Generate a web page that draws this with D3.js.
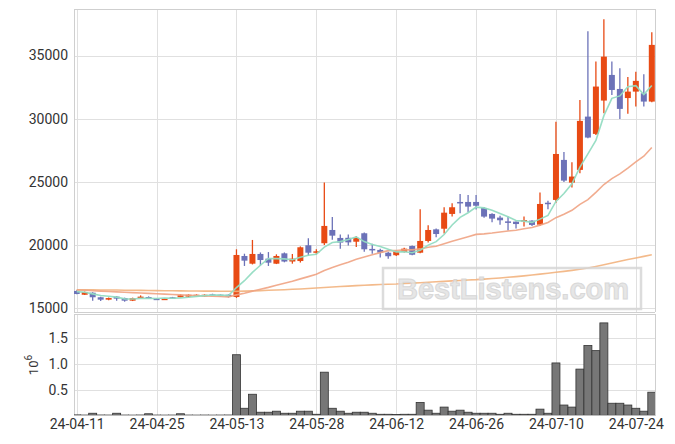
<!DOCTYPE html>
<html><head><meta charset="utf-8">
<script src="https://cdn.jsdelivr.net/npm/d3@7/dist/d3.min.js"></script>
<style>body{margin:0;background:#fff;} svg{display:block;font-family:Roboto,"Noto Sans",sans-serif;}</style>
</head><body><svg id="c" width="675" height="444"></svg>
<script>
const dates = ["24-04-11","24-04-12","24-04-15","24-04-16","24-04-17","24-04-18","24-04-19","24-04-22","24-04-23","24-04-24","24-04-25","24-04-26","24-04-29","24-04-30",
"24-05-02","24-05-03","24-05-07","24-05-08","24-05-09","24-05-10","24-05-13","24-05-14","24-05-16","24-05-17","24-05-20","24-05-21","24-05-22","24-05-23","24-05-24","24-05-27","24-05-28","24-05-29","24-05-30","24-05-31",
"24-06-03","24-06-04","24-06-05","24-06-07","24-06-10","24-06-11","24-06-12","24-06-13","24-06-14","24-06-17","24-06-18","24-06-19","24-06-20","24-06-21","24-06-24","24-06-25","24-06-26","24-06-27","24-06-28",
"24-07-01","24-07-02","24-07-03","24-07-04","24-07-05","24-07-08","24-07-09","24-07-10","24-07-11","24-07-12","24-07-15","24-07-16","24-07-17","24-07-18","24-07-19","24-07-22","24-07-23","24-07-24","24-07-25","24-07-26"];

const openP = [16350,16050,16210,15850,15660,15900,15790,15580,15820,15870,
15740,15670,15850,15850,15900,15900,15920,16080,16050,16050,
15870,19120,18510,19280,18910,18510,19330,18680,18720,19970,
19380,20130,21180,20550,20560,20250,20920,19680,19600,19380,
19180,19440,19910,19380,20310,21230,21280,22450,23400,23400,
23400,22920,22450,22160,21860,21840,21870,21920,21600,23340,
23560,26730,24930,25940,30160,28790,31430,33460,32350,31630,
32140,32010,31350];
const highP = [16400,16300,16250,15900,15830,15950,15820,15820,16000,15920,
15780,15780,15880,16100,16080,16080,16080,16130,16080,16080,
19650,19300,20390,19400,19430,19250,19400,19280,19880,20520,
19650,24950,22200,20820,20820,20700,20980,20080,19700,19450,
19550,19780,19950,22820,21550,21300,22980,23300,24030,23950,
23950,23000,22500,22300,22240,21850,22240,21950,24140,23500,
29760,27350,26550,31480,36920,34520,37880,34520,33990,33300,
33720,33510,36850];
const lowP = [16080,16020,15580,15550,15620,15580,15500,15550,15800,15790,
15650,15640,15720,15830,15870,15880,15900,15980,15920,15830,
15800,18330,18450,18350,18330,18480,18620,18510,18600,19120,
19220,19990,20400,19690,19950,19840,19450,19300,19000,18900,
19120,19400,19180,19330,20180,20600,20900,22240,22500,22580,
22800,22150,21800,21600,21130,21300,21450,21500,21500,22820,
23340,24990,24540,25680,28450,28700,30430,31870,29980,30380,
30960,30960,31300];
const closeP = [16110,16270,15850,15660,15790,15740,15580,15790,15900,15820,
15690,15740,15740,16010,16050,16050,16050,16000,15950,15900,
19200,18750,19280,18800,18590,19120,18680,18910,19810,19380,
19490,21500,20730,20180,20200,20550,19650,19600,19380,19100,
19490,19700,19220,20310,21180,20860,22550,22980,23300,23030,
23100,22240,22080,21950,21760,21650,21970,21580,23240,23240,
27200,25090,25410,29820,28500,32540,34910,32270,30770,32140,
32990,31350,35840];
const volume = [8000,5000,40000,6000,5000,40000,5000,4000,6000,30000,
5000,4000,5000,30000,5000,4000,5000,4000,5000,6000,
1180000,137000,410000,60000,60000,80000,40000,40000,80000,80000,
20000,840000,137000,80000,40000,60000,60000,40000,20000,20000,
15000,20000,20000,250000,100000,40000,160000,80000,100000,60000,
40000,40000,40000,20000,40000,20000,20000,20000,120000,40000,
1020000,200000,160000,900000,1360000,1260000,1800000,235000,235000,200000,
137000,80000,450000];
const ma5 = [16300,16250,16120,15990,15936,15862,15724,15712,15760,15766,
15756,15788,15778,15800,15846,15918,15980,16032,16020,15990,
16620,17160,17816,18386,18924,18908,18894,18820,19022,19180,
19254,19818,20182,20256,20420,20632,20262,20036,19876,19656,
19444,19454,19378,19564,19980,20254,20824,21576,22174,22544,
22992,22930,22750,22480,22226,21936,21882,21782,22040,22336,
23446,24070,24836,26152,27204,28272,30236,31608,31798,32526,
32616,31904,32618];
const ma20 = [16420,16400,16370,16340,16310,16280,16250,16220,16190,16160,
16130,16100,16070,16040,16010,15980,15950,15930,15905,15885,
16039,16163,16335,16492,16632,16801,16956,17112,17307,17485,
17675,17963,18213,18421,18629,18854,19034,19214,19385,19545,
19560,19607,19604,19680,19809,19896,20090,20293,20468,20650,
20831,20868,20935,21024,21102,21157,21273,21372,21565,21772,
22157,22427,22736,23212,23578,24162,24780,25244,25618,26073,
26568,27023,27711];
const maLong = [16450,16445,16440,16430,16425,16420,16410,16400,16395,16390,
16380,16370,16365,16360,16350,16345,16340,16335,16330,16325,
16320,16335,16355,16375,16400,16425,16450,16480,16510,16545,
16580,16620,16660,16700,16730,16770,16800,16830,16860,16880,
16900,16935,16970,17005,17040,17075,17110,17145,17180,17215,
17245,17290,17335,17380,17430,17485,17545,17610,17680,17755,
17830,17900,17980,18070,18170,18290,18420,18560,18710,18840,
18960,19090,19220];

const xTickIdx = [0,10,20,30,40,50,60,70];
const priceTicks = [15000,20000,25000,30000,35000];
const volTicks = [500000,1000000,1500000];

const L=74, R=655, pTop=9, pBot=312, vTop=314, vBot=415.5;
const svg = d3.select("#c");
const x = d3.scaleLinear().domain([-0.34,72.4]).range([L,R]);
const y = d3.scaleLinear().domain([15000,35000]).range([308,55.5]);
const yv = d3.scaleLinear().domain([0,1500000]).range([415.3,338.3]);
const UP="#e84a14", DOWN="#6c72b8";

const defs = svg.append("defs");
defs.append("clipPath").attr("id","cp").append("rect").attr("x",L).attr("y",pTop).attr("width",R-L).attr("height",pBot-pTop);
defs.append("clipPath").attr("id","cv").append("rect").attr("x",L).attr("y",vTop).attr("width",R-L).attr("height",vBot-vTop+1);

const grid = svg.append("g").attr("stroke","#e0e0e0").attr("stroke-width",1).attr("shape-rendering","crispEdges");
priceTicks.forEach(t=>grid.append("line").attr("x1",L).attr("x2",R).attr("y1",Math.round(y(t))+0.5).attr("y2",Math.round(y(t))+0.5));
volTicks.forEach(t=>grid.append("line").attr("x1",L).attr("x2",R).attr("y1",Math.round(yv(t))+0.5).attr("y2",Math.round(yv(t))+0.5));
xTickIdx.forEach(i=>{
  const xx=Math.round(x(i))+0.5;
  grid.append("line").attr("x1",xx).attr("x2",xx).attr("y1",pTop).attr("y2",pBot);
  grid.append("line").attr("x1",xx).attr("x2",xx).attr("y1",vTop).attr("y2",vBot);
});
const fr = svg.append("g").attr("fill","none").attr("stroke","#cfcfcf").attr("shape-rendering","crispEdges");
fr.append("path").attr("d",`M${L+0.5},${pBot}V${pTop+0.5}H${R+0.5}V${pBot}`);
fr.append("line").attr("x1",L).attr("x2",R).attr("y1",pBot+0.5).attr("y2",pBot+0.5);
fr.append("path").attr("d",`M${L+0.5},${vBot}V${vTop+0.5}H${R+0.5}V${vBot}`);

const cg = svg.append("g").attr("clip-path","url(#cp)");
const idx = d3.range(dates.length);
cg.selectAll("line.w").data(idx).join("line")
  .attr("x1",i=>x(i)).attr("x2",i=>x(i))
  .attr("y1",i=>y(highP[i])).attr("y2",i=>y(lowP[i]))
  .attr("stroke",i=>closeP[i]>=openP[i]?UP:DOWN).attr("stroke-width",1.3);
cg.selectAll("rect").data(idx).join("rect")
  .attr("x",i=>x(i)-3).attr("width",6)
  .attr("y",i=>y(Math.max(openP[i],closeP[i])))
  .attr("height",i=>Math.max(1.5,Math.abs(y(openP[i])-y(closeP[i]))))
  .attr("fill",i=>closeP[i]>=openP[i]?UP:DOWN);

const line = d3.line().x((d,i)=>x(i)).y(d=>y(d));
const lg = svg.append("g").attr("clip-path","url(#cp)").attr("fill","none").attr("stroke-width",1.6);
lg.append("path").attr("d",line(maLong)).attr("stroke","#f2b27e").attr("opacity",0.9);
lg.append("path").attr("d",line(ma20)).attr("stroke","#f0a383").attr("opacity",0.9);
lg.append("path").attr("d",line(ma5)).attr("stroke","#93dcc2").attr("opacity",0.95);

const vg = svg.append("g").attr("clip-path","url(#cv)");
vg.selectAll("rect").data(idx).join("rect")
  .attr("x",i=>x(i)-4).attr("width",7.99)
  .attr("y",i=>yv(volume[i])).attr("height",i=>yv(0)-yv(volume[i]))
  .attr("fill","#777").attr("stroke","#333").attr("stroke-width",0.8);
svg.append("line").attr("x1",L).attr("x2",R).attr("y1",415.5).attr("y2",415.5).attr("stroke","#bbb");

const wm = svg.append("g").attr("opacity",0.85);
wm.append("rect").attr("x",383).attr("y",268).attr("width",258).attr("height",41)
  .attr("fill","none").attr("stroke","#d6d6d6").attr("stroke-width",2.5);
wm.append("text").attr("x",513).attr("y",299).attr("text-anchor","middle")
  .attr("font-family","'Liberation Sans',Arial,sans-serif").attr("font-weight","bold").attr("font-size",29)
  .attr("fill","#e2e2e2").attr("stroke","#d2d2d2").attr("stroke-width",1)
  .text("BestListens.com");

const ax = svg.append("g").attr("class","axes");
const yAxis = d3.axisLeft(y).tickValues(priceTicks).tickSize(0).tickPadding(6).tickFormat(d3.format("d"));
ax.append("g").attr("transform",`translate(${L},0)`).call(yAxis).call(g=>g.select(".domain").remove());
const vAxis = d3.axisLeft(yv).tickValues(volTicks).tickSize(0).tickPadding(6).tickFormat(d=>(d/1e6).toFixed(1));
ax.append("g").attr("transform",`translate(${L},0)`).call(vAxis).call(g=>g.select(".domain").remove());
const xAxis = d3.axisBottom(x).tickValues(xTickIdx).tickSize(0).tickPadding(4).tickFormat(i=>dates[i]);
ax.append("g").attr("transform",`translate(0,${vBot})`).call(xAxis).call(g=>g.select(".domain").remove());
ax.selectAll("text").attr("font-family","Roboto,sans-serif").attr("font-size",14).attr("fill","#333");

const ul = svg.append("text").attr("transform","translate(38,365) rotate(-90)")
  .attr("text-anchor","middle").attr("font-size",13).attr("fill","#333");
ul.append("tspan").text("10");
ul.append("tspan").attr("dy",-6).attr("font-size",10).text("6");
</script></body></html>
